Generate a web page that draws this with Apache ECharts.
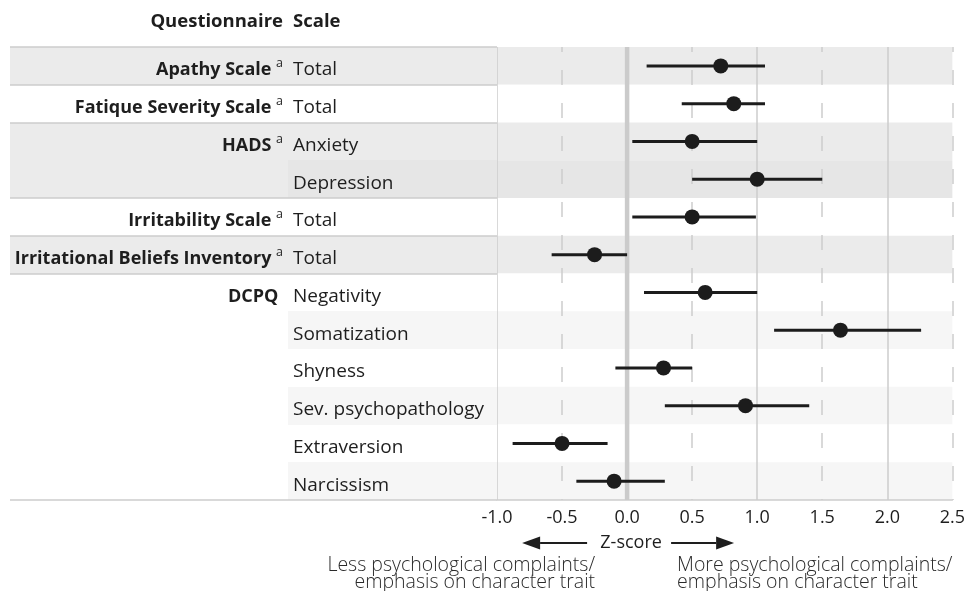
<!DOCTYPE html>
<html>
<head>
<meta charset="utf-8">
<script src="https://cdn.jsdelivr.net/npm/echarts@6/dist/echarts.min.js"></script>
<style>
  html, body { margin: 0; padding: 0; background: #ffffff; }
  #chart { width: 968px; height: 591px; }
</style>
</head>
<body>
<div id="chart"></div>
<script>
// ---- data ----
const questionnaires = ['Apathy Scale', 'Fatique Severity Scale', 'HADS', '', 'Irritability Scale',
  'Irritational Beliefs Inventory', 'DCPQ', '', '', '', '', ''];
const footnotes = ['a', 'a', 'a', '', 'a', 'a', '', '', '', '', '', ''];
const scales = ['Total', 'Total', 'Anxiety', 'Depression', 'Total', 'Total', 'Negativity',
  'Somatization', 'Shyness', 'Sev. psychopathology', 'Extraversion', 'Narcissism'];
const groupIndex = [0, 1, 2, 2, 3, 4, 5, 5, 5, 5, 5, 5];
const zEstimate = [0.72, 0.82, 0.50, 1.00, 0.50, -0.25, 0.60, 1.64, 0.28, 0.91, -0.50, -0.10];
const ciLower = [0.15, 0.42, 0.04, 0.50, 0.04, -0.58, 0.13, 1.13, -0.09, 0.29, -0.88, -0.39];
const ciUpper = [1.06, 1.06, 1.00, 1.50, 0.99, 0.00, 1.00, 2.26, 0.50, 1.40, -0.15, 0.29];
const xTicks = [-1.0, -0.5, 0.0, 0.5, 1.0, 1.5, 2.0, 2.5];
const referenceZ = 0;

// ---- styles ----
const FONT = '"Open Sans", "Noto Sans", sans-serif';
const INK = '#1e1e1e';
const questionnaireFill = ['#ebebeb', '#ffffff', '#ebebeb', '#ebebeb', '#ffffff', '#ebebeb',
  '#ffffff', '#ffffff', '#ffffff', '#ffffff', '#ffffff', '#ffffff'];
const bandFill = ['#ebebeb', '#ffffff', '#ebebeb', '#e6e6e6', '#ffffff', '#ebebeb',
  '#ffffff', '#f6f6f6', '#ffffff', '#f6f6f6', '#ffffff', '#f6f6f6'];
const RULE = '#cdcdcd';

// ---- layout ----
const W = 968, H = 591;
const plotLeft = 497, plotRight = 954, plotTop = 47, plotBottom = 500;
const tableLeft = 10;
const scaleColLeft = 288;
const scaleTextX = 293;
const questionnaireTextX = 283;
const labelPad = [8, 0, 0, 0];

const rowKeys = scales.map((s, i) => String(i));
const xMin = xTicks[0], xMax = xTicks[xTicks.length - 1], xStep = xTicks[1] - xTicks[0];

const chart = echarts.init(document.getElementById('chart'), null, { renderer: 'canvas' });

const baseX = {
  type: 'value', gridIndex: 0, position: 'bottom',
  min: xMin, max: xMax, interval: xStep
};
const baseY = {
  type: 'category', gridIndex: 0, position: 'left', inverse: true, data: rowKeys,
  axisLine: { show: false }, axisTick: { show: false }, splitLine: { show: false }
};

chart.setOption({
  animation: false,
  backgroundColor: '#ffffff',
  textStyle: { fontFamily: FONT },
  grid: [{ left: plotLeft, right: W - plotRight, top: plotTop, bottom: H - plotBottom }],
  xAxis: [
    Object.assign({}, baseX, {
      axisLine: { show: true, lineStyle: { color: RULE, width: 1.5 } },
      axisTick: { show: false },
      axisLabel: {
        margin: 9, fontSize: 18, color: INK, fontFamily: FONT,
        formatter: v => v.toFixed(1)
      },
      splitLine: {
        show: true, showMinLine: true, showMaxLine: true,
        lineStyle: { color: [RULE, 'rgba(0,0,0,0)'], width: 1.5, type: 'solid' }
      }
    }),
    Object.assign({}, baseX, {
      axisLine: { show: false },
      axisTick: { show: false },
      axisLabel: { show: false },
      splitLine: {
        show: true, showMinLine: true, showMaxLine: true,
        lineStyle: { color: ['rgba(0,0,0,0)', RULE], width: 1.5, type: [15, 18], dashOffset: 10 }
      }
    })
  ],
  yAxis: [
    // row bands of the plot panel
    Object.assign({}, baseY, {
      axisLabel: { show: false },
      splitArea: { show: true, areaStyle: { color: bandFill } }
    }),
    // questionnaire column
    Object.assign({}, baseY, {
      z: 10,
      axisLabel: {
        interval: 0, align: 'right', margin: plotLeft - questionnaireTextX,
        fontFamily: FONT, padding: labelPad,
        formatter: (v, i) => {
          if (!questionnaires[i]) return '';
          return '{q|' + questionnaires[i] + ' }' + (footnotes[i] ? '{s|' + footnotes[i] + '}' : '');
        },
        rich: {
          q: { fontSize: 18, fontWeight: 'bold', color: INK, fontFamily: FONT, lineHeight: 24 },
          s: { fontSize: 12.5, color: INK, fontFamily: FONT, padding: [0, 0, 12, 0] }
        }
      }
    }),
    // scale column
    Object.assign({}, baseY, {
      z: 10,
      axisLabel: {
        interval: 0, align: 'left', margin: plotLeft - scaleTextX,
        fontFamily: FONT, padding: labelPad,
        formatter: (v, i) => '{t|' + scales[i] + '}',
        rich: {
          t: { fontSize: 19, color: INK, fontFamily: FONT, lineHeight: 24 }
        }
      }
    })
  ],
  series: [
    {
      // table cells and group rules to the left of the plot
      type: 'custom', name: 'table', xAxisIndex: 0, yAxisIndex: 0,
      silent: true, clip: false, z: 1,
      data: rowKeys.map((k, i) => [xMin, i]),
      encode: { x: 0, y: 1 },
      renderItem: (params, api) => {
        const i = api.value(1);
        const c = api.coord([xMin, i]);
        const h = api.size([0, 1])[1];
        const top = Math.round(c[1] - h / 2), bottom = Math.round(c[1] + h / 2);
        const gx = params.coordSys.x;
        const children = [
          { type: 'rect', shape: { x: tableLeft, y: top, width: gx - tableLeft, height: bottom - top },
            style: { fill: questionnaireFill[i] } },
          { type: 'rect', shape: { x: scaleColLeft, y: top, width: gx - scaleColLeft, height: bottom - top },
            style: { fill: bandFill[i] } }
        ];
        if (i === 0 || groupIndex[i] !== groupIndex[i - 1]) {
          children.push({ type: 'line', shape: { x1: tableLeft, y1: top, x2: gx, y2: top },
            style: { stroke: RULE, lineWidth: 1.5 } });
        }
        if (i === rowKeys.length - 1) {
          children.push({ type: 'line', shape: { x1: tableLeft, y1: bottom, x2: gx, y2: bottom },
            style: { stroke: RULE, lineWidth: 1.5 } });
        }
        return { type: 'group', children };
      }
    },
    {
      // reference line at z = 0
      type: 'custom', name: 'reference', xAxisIndex: 0, yAxisIndex: 0,
      silent: true, z: 2,
      data: [[referenceZ, 0]],
      encode: { x: 0, y: 1 },
      renderItem: (params, api) => {
        const p = api.coord([api.value(0), 0]);
        const cs = params.coordSys;
        return { type: 'line', shape: { x1: p[0], y1: cs.y, x2: p[0], y2: cs.y + cs.height },
          style: { stroke: '#cbcbcb', lineWidth: 4.5 } };
      }
    },
    {
      // confidence intervals
      type: 'custom', name: 'ci', xAxisIndex: 0, yAxisIndex: 0,
      silent: true, z: 3,
      data: rowKeys.map((k, i) => [ciLower[i], ciUpper[i], i]),
      encode: { x: [0, 1], y: 2 },
      renderItem: (params, api) => {
        const lo = api.coord([api.value(0), api.value(2)]);
        const hi = api.coord([api.value(1), api.value(2)]);
        return { type: 'line', shape: { x1: lo[0], y1: lo[1], x2: hi[0], y2: hi[1] },
          style: { stroke: '#1c1c1c', lineWidth: 3 } };
      }
    },
    {
      type: 'scatter', name: 'estimate', xAxisIndex: 0, yAxisIndex: 0, z: 4,
      symbol: 'circle', symbolSize: 15, silent: true,
      itemStyle: { color: '#1c1c1c', opacity: 1 },
      data: zEstimate.map((v, i) => [v, i])
    }
  ]
});

// ---- header and x-axis annotation ----
const zeroX = chart.convertToPixel({ xAxisIndex: 0 }, referenceZ);
const arrowY = 543;
function arrow(x1, x2) {
  const dir = Math.sign(x2 - x1);
  const headLen = 18, headHalf = 6.5;
  return [
    { type: 'line', silent: true, shape: { x1: x1, y1: arrowY, x2: x2 - dir * headLen, y2: arrowY },
      style: { stroke: INK, lineWidth: 2 } },
    { type: 'polygon', silent: true,
      shape: { points: [[x2, arrowY], [x2 - dir * headLen, arrowY - headHalf], [x2 - dir * headLen, arrowY + headHalf]] },
      style: { fill: INK } }
  ];
}
const noteStyle = { fontSize: 19.5, fontFamily: FONT, fontWeight: 300, fill: '#2a2a2a', lineHeight: 17 };
chart.setOption({
  graphic: [
    { type: 'text', silent: true, x: questionnaireTextX, y: 22,
      style: { text: 'Questionnaire', fontSize: 18.5, fontWeight: 'bold', fontFamily: FONT, fill: INK,
        align: 'right', verticalAlign: 'middle' } },
    { type: 'text', silent: true, x: scaleTextX, y: 22,
      style: { text: 'Scale', fontSize: 18.5, fontWeight: 'bold', fontFamily: FONT, fill: INK,
        align: 'left', verticalAlign: 'middle' } },
    { type: 'text', silent: true, x: zeroX + 4, y: arrowY,
      style: { text: 'Z-score', fontSize: 18, fontFamily: FONT, fill: INK, align: 'center', verticalAlign: 'middle' } },
    ...arrow(zeroX - 40, zeroX - 105),
    ...arrow(zeroX + 44, zeroX + 107),
    { type: 'text', silent: true, x: zeroX - 32, y: 557,
      style: Object.assign({ text: 'Less psychological complaints/\nemphasis on character trait',
        align: 'right', verticalAlign: 'top' }, noteStyle) },
    { type: 'text', silent: true, x: zeroX + 50, y: 557,
      style: Object.assign({ text: 'More psychological complaints/\nemphasis on character trait',
        align: 'left', verticalAlign: 'top' }, noteStyle) }
  ]
});
</script>
</body>
</html>
